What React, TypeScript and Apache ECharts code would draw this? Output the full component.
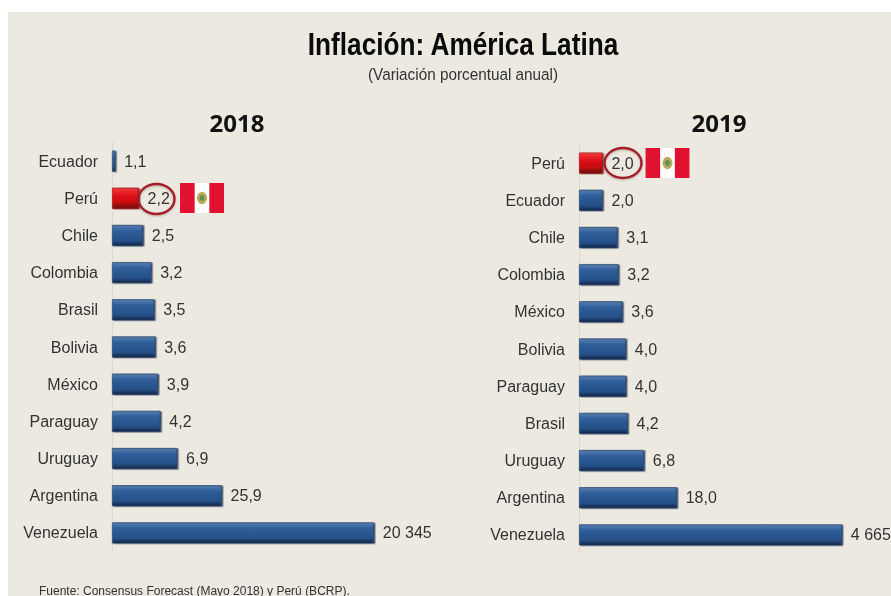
import React, { useEffect, useRef } from "react";
import * as echarts from "echarts";

const countries2018 = ["Ecuador", "Perú", "Chile", "Colombia", "Brasil", "Bolivia", "México", "Paraguay", "Uruguay", "Argentina", "Venezuela"];
const values2018 = [1.1, 2.2, 2.5, 3.2, 3.5, 3.6, 3.9, 4.2, 6.9, 25.9, 20345];
const countries2019 = ["Perú", "Ecuador", "Chile", "Colombia", "México", "Bolivia", "Paraguay", "Brasil", "Uruguay", "Argentina", "Venezuela"];
const values2019 = [2.0, 2.0, 3.1, 3.2, 3.6, 4.0, 4.0, 4.2, 6.8, 18.0, 4665];
// The source draws the hyperinflation bars cut short: the axis stops here.
const AXIS_CUT = 2355;

const FONT = "'Liberation Sans', Arial, sans-serif";

const vGrad = (stops: [number, string][]) =>
  new echarts.graphic.LinearGradient(0, 0, 0, 1, stops.map(([offset, color]) => ({ offset, color })));

const blueFill = () =>
  vGrad([[0, "#54749f"], [0.1, "#4a74a8"], [0.28, "#2f5e9a"], [0.78, "#254f86"], [0.9, "#1a3560"], [1, "#16294a"]]);
const redFill = () =>
  vGrad([[0, "#e9444a"], [0.12, "#ee2a2e"], [0.4, "#dc1014"], [0.74, "#c40c10"], [0.86, "#8c0a10"], [1, "#7a0a10"]]);

const formatValue = (v: number) =>
  v >= 1000 ? String(v).replace(/(\d)(\d{3})$/, "$1 $2") : v.toFixed(1).replace(".", ",");

function seriesFor(names: string[], values: number[], index: number) {
  return {
    type: "bar",
    xAxisIndex: index,
    yAxisIndex: index,
    barWidth: 21,
    clip: true,
    data: values.map((value, i) => ({
      value,
      itemStyle: {
        color: names[i] === "Perú" ? redFill() : blueFill(),
        borderColor: names[i] === "Perú" ? "#a50c12" : "#24456f",
        borderWidth: 0.6,
        shadowColor: names[i] === "Perú" ? "rgba(90,10,15,0.75)" : "rgba(15,30,60,0.75)",
        shadowBlur: 1,
        shadowOffsetX: 1.5,
        shadowOffsetY: 0.5,
      },
    })),
    label: {
      show: true,
      position: "right",
      distance: 9,
      color: "#333333",
      fontFamily: FONT,
      fontSize: 16,
      formatter: (p: any) => formatValue(p.value),
    },
  };
}

function flag(x: number, y: number) {
  const w = 44;
  const h = 30;
  const s = w / 3;
  return [
    { type: "rect", shape: { x, y, width: w, height: h }, style: { fill: "#ffffff" } },
    { type: "rect", shape: { x, y, width: s, height: h }, style: { fill: "#e01230" } },
    { type: "rect", shape: { x: x + 2 * s, y, width: s, height: h }, style: { fill: "#e01230" } },
    { type: "ellipse", shape: { cx: x + w / 2, cy: y + h / 2, rx: 5, ry: 6 }, style: { fill: "#b9a95a" } },
    { type: "ellipse", shape: { cx: x + w / 2, cy: y + h / 2, rx: 2.5, ry: 3 }, style: { fill: "#5f8f5a" } },
  ];
}

const ring = (cx: number, cy: number, rx: number, ry: number) => ({
  type: "ellipse",
  z: 100,
  shape: { cx, cy, rx, ry },
  style: { fill: "transparent", stroke: "#a51c2a", lineWidth: 2.4, shadowColor: "rgba(0,0,0,0.25)", shadowBlur: 2, shadowOffsetY: 1 },
});

const text = (x: number, y: number, t: string, font: string, fill: string, align: string, fontSize: number, scaleX = 1, weight = "normal") => ({
  type: "text",
  x,
  y,
  scaleX,
  z: 100,
  style: { text: t, fontFamily: font, fontSize, fill, align, verticalAlign: "middle", fontWeight: weight },
});

export default function App() {
  const ref = useRef<HTMLDivElement>(null);
  useEffect(() => {
    const chart = echarts.init(ref.current!, undefined, { renderer: "svg" });
    const categoryAxis = (data: string[], gridIndex: number) => ({
      type: "category",
      gridIndex,
      inverse: true,
      data,
      axisTick: { show: false },
      axisLine: { show: true, lineStyle: { color: "#d9d7d0", width: 1 } },
      axisLabel: { color: "#333333", fontFamily: FONT, fontSize: 16, margin: 14 },
    });
    const valueAxis = (gridIndex: number) => ({
      type: "log",
      gridIndex,
      logBase: 10,
      min: 1,
      max: AXIS_CUT,
      show: false,
      splitLine: { show: false },
    });
    chart.setOption({
      animation: false,
      backgroundColor: "transparent",
      grid: [
        { left: 112, top: 142.5, width: 261.5, height: 409 },
        { left: 579, top: 144.5, width: 262.5, height: 409 },
      ],
      xAxis: [valueAxis(0), valueAxis(1)],
      yAxis: [categoryAxis(countries2018, 0), categoryAxis(countries2019, 1)],
      series: [seriesFor(countries2018, values2018, 0), seriesFor(countries2019, values2019, 1)],
      graphic: [
        { type: "rect", z: -10, shape: { x: 8, y: 12, width: 883, height: 584 }, style: { fill: "#ece9e0" } },
        text(463, 44, "Inflación: América Latina", FONT, "#0a0a0a", "center", 31, 0.845, "bold"),
        text(463, 74, "(Variación porcentual anual)", FONT, "#333333", "center", 17, 0.9),
        text(237, 122, "2018", "'Open Sans', sans-serif", "#111111", "center", 24, 1, "bold"),
        text(719, 122, "2019", "'Open Sans', sans-serif", "#111111", "center", 24, 1, "bold"),
        text(39, 590.5, "Fuente: Consensus Forecast (Mayo 2018) y Perú (BCRP).", FONT, "#333333", "left", 12),
        ring(156.5, 199, 18, 15),
        ring(623, 163, 18.5, 15),
        ...flag(180, 183),
        ...flag(645.5, 148),
      ],
    });
    return () => chart.dispose();
  }, []);
  return <div ref={ref} style={{ position: "fixed", left: 0, top: 0, width: 891, height: 596 }} />;
}
